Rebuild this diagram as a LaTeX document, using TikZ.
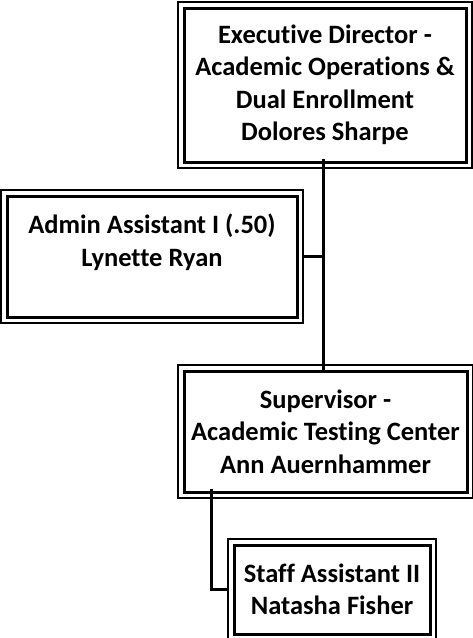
\documentclass[tikz,border=0pt]{standalone}
\usepackage{fontspec}
\setmainfont{Carlito}[Ligatures=NoCommon]
\usetikzlibrary{positioning}

\tikzset{
  orgbox/.style={draw,line width=3pt,inner sep=0pt,align=center,
    font=\bfseries\fontsize{26.5}{32.5}\selectfont},
  rim/.style={line width=1.1pt},
  link/.style={line width=3pt}
}

\begin{document}
\begin{tikzpicture}[x=1pt,y=-1pt]
  \useasboundingbox (0,0) rectangle (472,638);

  \node[orgbox,minimum width=282pt,minimum height=154pt] (exec) at (325,85)
       {Executive Director -\\Academic Operations \&\\Dual Enrollment\\Dolores Sharpe};

  \node[orgbox,minimum width=290pt,minimum height=121pt] (admin) at (152,256.5)
       {Admin Assistant I (.50)\\Lynette Ryan\\\mbox{}};

  \node[orgbox,minimum width=283pt,minimum height=121pt] (sup) at (325.5,431.5)
       {Supervisor -\\Academic Testing Center\\Ann Auernhammer};

  \node[orgbox,minimum width=196pt,minimum height=89pt] (staff) at (332,589.5)
       {Staff Assistant II\\Natasha Fisher};

  % thin outer rims
  \foreach \n in {exec,admin,sup,staff}
    \draw[rim] ([shift={(-4.5,-4.5)}]\n.north west) rectangle ([shift={(4.5,4.5)}]\n.south east);

  % connectors
  \coordinate (trunk) at ([xshift=-2pt,yshift=5pt]exec.south);
  \coordinate (join) at (trunk |- admin.east);
  \draw[link] (trunk) -- (trunk |- sup.north);
  \draw[link] ([xshift=5pt]admin.east) -- (join);
  \coordinate (drop) at ([yshift=5pt]sup.south -| 211,0);
  \draw[link] (drop) |- ([xshift=-5pt]staff.west);
\end{tikzpicture}
\end{document}
